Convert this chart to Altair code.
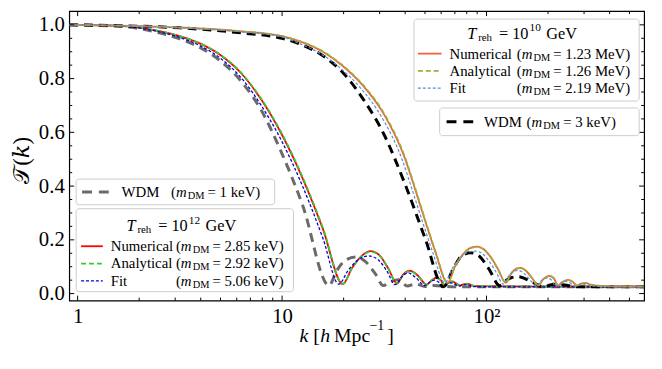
import altair as alt
import pandas as pd

FONT = "Liberation Serif"

# ---------------- data ----------------
# T_reh = 1e12 GeV
k12 = [0.91, 1.58, 2.0, 2.51, 3.16, 3.98, 5.01, 6.31, 7.94, 10.0, 12.59, 15.85, 19.8, 22.0, 24.5, 27.1,
       30.0, 33.0, 36.5, 39.0, 42.2, 46.0, 51.0, 54.0, 57.0, 60.0, 62.3, 65.0, 68.0, 71.0, 74.0, 77.0,
       80.0, 84.0, 88.0, 120.0, 250.0, 590.0]
T12_num = [1.0, 0.997, 0.990, 0.977, 0.958, 0.930, 0.887, 0.820, 0.720, 0.590, 0.430, 0.240, 0.035, 0.095,
           0.140, 0.158, 0.142, 0.095, 0.037, 0.070, 0.085, 0.068, 0.033, 0.050, 0.059, 0.048, 0.032, 0.040,
           0.045, 0.038, 0.030, 0.034, 0.037, 0.032, 0.028, 0.027, 0.026, 0.026]
T12_ana = [1.0, 0.997, 0.990, 0.977, 0.958, 0.931, 0.888, 0.822, 0.723, 0.594, 0.434, 0.244, 0.036, 0.094,
           0.139, 0.156, 0.141, 0.094, 0.037, 0.069, 0.084, 0.067, 0.033, 0.049, 0.058, 0.047, 0.032, 0.039,
           0.044, 0.037, 0.030, 0.033, 0.036, 0.031, 0.028, 0.027, 0.026, 0.026]
k12_fit = [0.91, 1.58, 2.0, 2.51, 3.16, 3.98, 5.01, 6.31, 7.94, 10.0, 12.59, 15.85, 18.96, 21.0, 23.5, 26.5,
           29.5, 32.5, 35.7, 38.5, 41.3, 45.0, 50.0, 53.0, 55.5, 58.5, 61.0, 64.0, 67.0, 70.0, 73.0, 76.0,
           79.0, 83.0, 87.0, 120.0, 250.0, 590.0]
T12_fit = [1.0, 0.996, 0.988, 0.974, 0.953, 0.922, 0.875, 0.803, 0.698, 0.565, 0.400, 0.205, 0.035, 0.085,
           0.125, 0.140, 0.126, 0.085, 0.033, 0.062, 0.077, 0.060, 0.030, 0.044, 0.050, 0.042, 0.030, 0.036,
           0.040, 0.034, 0.028, 0.031, 0.033, 0.029, 0.026, 0.025, 0.025, 0.025]
# WDM 1 keV
k_w1 = [0.91, 1.58, 2.0, 2.51, 3.16, 3.98, 5.01, 6.31, 7.94, 10.0, 12.59, 16.97, 18.5, 20.5, 22.9, 25.5,
        28.5, 31.3, 34.0, 37.0, 41.0, 45.0, 50.0, 55.0, 70.0, 590.0]
T_w1 = [1.0, 0.995, 0.986, 0.970, 0.948, 0.915, 0.865, 0.790, 0.680, 0.520, 0.330, 0.030, 0.085, 0.125,
        0.136, 0.120, 0.075, 0.030, 0.045, 0.052, 0.028, 0.036, 0.026, 0.030, 0.025, 0.025]
# T_reh = 1e10 GeV
k10 = [0.91, 1.59, 3.16, 6.31, 10.0, 12.59, 15.85, 19.95, 25.12, 31.62, 39.81, 44.67, 50.12, 56.23, 64.5,
       70.5, 77.5, 83.5, 90.0, 97.0, 105.0, 114.0, 124.2, 132.0, 139.0, 146.8, 156.0, 167.0, 179.3, 190.0,
       202.7, 213.0, 224.0, 237.0, 250.4, 263.0, 276.7, 291.0, 305.9, 322.0, 345.0, 400.0, 590.0]
T10_num = [1.0, 0.997, 0.990, 0.976, 0.958, 0.935, 0.900, 0.845, 0.770, 0.665, 0.505, 0.390, 0.270, 0.155,
           0.040, 0.105, 0.150, 0.170, 0.175, 0.165, 0.135, 0.090, 0.040, 0.075, 0.092, 0.096, 0.085, 0.058,
           0.030, 0.055, 0.066, 0.058, 0.030, 0.045, 0.051, 0.045, 0.030, 0.037, 0.040, 0.033, 0.030, 0.027,
           0.026]
T10_ana = [1.0, 0.997, 0.990, 0.976, 0.958, 0.936, 0.901, 0.847, 0.773, 0.669, 0.510, 0.395, 0.274, 0.158,
           0.041, 0.104, 0.149, 0.169, 0.174, 0.164, 0.134, 0.089, 0.040, 0.074, 0.091, 0.095, 0.084, 0.057,
           0.030, 0.054, 0.065, 0.057, 0.030, 0.044, 0.050, 0.044, 0.030, 0.036, 0.039, 0.032, 0.030, 0.027,
           0.026]
k10_fit = [0.91, 1.59, 3.16, 6.31, 10.0, 12.2, 15.4, 19.35, 24.4, 30.7, 38.6, 43.3, 48.6, 54.5, 62.6, 68.5,
           75.5, 81.5, 88.0, 95.0, 102.5, 111.0, 121.0, 128.5, 135.5, 143.0, 152.0, 163.0, 175.0, 185.0,
           197.5, 207.5, 218.0, 231.0, 244.0, 256.0, 269.0, 283.0, 298.0, 314.0, 340.0, 400.0, 590.0]
T10_fit = [1.0, 0.997, 0.989, 0.974, 0.955, 0.930, 0.893, 0.838, 0.762, 0.657, 0.500, 0.386, 0.268, 0.155,
           0.040, 0.098, 0.138, 0.155, 0.158, 0.150, 0.122, 0.082, 0.035, 0.066, 0.082, 0.086, 0.076, 0.052,
           0.028, 0.048, 0.058, 0.051, 0.028, 0.040, 0.045, 0.040, 0.028, 0.033, 0.036, 0.030, 0.028, 0.026,
           0.025]
# WDM 3 keV
k_w3 = [0.91, 1.59, 3.16, 6.31, 10.0, 12.59, 15.85, 19.95, 25.12, 31.62, 39.81, 50.12, 61.6, 68.5, 75.5,
        83.7, 92.0, 103.0, 116.0, 124.0, 133.0, 143.5, 155.0, 170.0, 189.6, 205.0, 225.0, 250.0, 280.0, 590.0]
T_w3 = [1.0, 0.997, 0.989, 0.970, 0.950, 0.925, 0.885, 0.820, 0.720, 0.590, 0.410, 0.205, 0.025, 0.090,
        0.140, 0.152, 0.140, 0.090, 0.030, 0.048, 0.060, 0.063, 0.055, 0.040, 0.025, 0.032, 0.035, 0.030,
        0.025, 0.025]

x_major = [1, 10, 100]
x_minor = [2, 3, 4, 5, 6, 7, 8, 9, 20, 30, 40, 50, 60, 70, 80, 90, 200, 300, 400, 500]
y_major = [0.0, 0.2, 0.4, 0.6, 0.8, 1.0]
y_minor = [0.05, 0.1, 0.15, 0.25, 0.3, 0.35, 0.45, 0.5, 0.55, 0.65, 0.7, 0.75, 0.85, 0.9, 0.95]

# ---------------- layout ----------------
W, H = 582, 293
xs = alt.Scale(type="log", domain=[0.91, 590], nice=False)
ys = alt.Scale(domain=[-0.026, 1.051], nice=False, zero=False)
xaxis = alt.Axis(values=x_major, labelExpr="datum.value == 100 ? '10²' : format(datum.value, 'd')",
                 ticks=False, tickSize=0, domain=False, grid=False, title=None, labelFont=FONT,
                 labelFontSize=21, labelColor="black", labelPadding=5, labelFlush=False)
yaxis = alt.Axis(values=y_major, format=".1f", ticks=False, tickSize=0, domain=False, grid=False,
                 title=None, labelFont=FONT, labelFontSize=21, labelColor="black", labelPadding=5)
X = alt.X("k:Q", scale=xs, axis=xaxis)
Y = alt.Y("T:Q", scale=ys, axis=yaxis)


def line(kk, tt, color, width, dash=None):
    df = pd.DataFrame({"k": kk, "T": tt})
    kw = dict(color=color, strokeWidth=width, interpolate="monotone", clip=True)
    if dash:
        kw["strokeDash"] = dash
    return alt.Chart(df).mark_line(**kw).encode(x=X, y=Y)


lines = [
    line(k_w1, T_w1, "#6a6a6a", 3.0, [9, 6]),
    line(k12, T12_num, "#ff0000", 1.8),
    line(k12, T12_ana, "#33cc33", 1.8, [5, 3]),
    line(k12_fit, T12_fit, "#0000dd", 1.3, [3, 2]),
    line(k_w3, T_w3, "#000000", 3.0, [9, 6]),
    line(k10, T10_num, "#f4623a", 1.8),
    line(k10, T10_ana, "#94b43a", 1.8, [5, 3]),
    line(k10_fit, T10_fit, "#5b8fd6", 1.2, [3, 2]),
]


def xticks(vals, ln):
    d = pd.DataFrame({"k": vals})
    b = alt.Chart(d).mark_rule(color="black", strokeWidth=1).encode(x=X, y=alt.value(H), y2=alt.value(H - ln))
    t = alt.Chart(d).mark_rule(color="black", strokeWidth=1).encode(x=X, y=alt.value(0), y2=alt.value(ln))
    return [b, t]


def yticks(vals, ln):
    d = pd.DataFrame({"T": vals})
    l = alt.Chart(d).mark_rule(color="black", strokeWidth=1).encode(y=Y, x=alt.value(0), x2=alt.value(ln))
    r = alt.Chart(d).mark_rule(color="black", strokeWidth=1).encode(y=Y, x=alt.value(W), x2=alt.value(W - ln))
    return [l, r]


ticks = xticks(x_major, 5) + xticks(x_minor, 3) + yticks(y_major, 5) + yticks(y_minor, 3)

one = pd.DataFrame({"a": [0]})


def txt(s, x, y, size=15, style="normal", align="left", angle=0, font=FONT):
    kw = dict(text=s, font=font, fontSize=size, fontStyle=style, align=align, baseline="middle", color="black")
    if angle:
        kw["angle"] = angle
    return alt.Chart(one).mark_text(**kw).encode(x=alt.value(x), y=alt.value(y))


def box(x1, y1, x2, y2):
    return alt.Chart(one).mark_rect(fill="white", fillOpacity=0.8, stroke="#cccccc", strokeWidth=1,
                                    cornerRadius=3).encode(x=alt.value(x1), x2=alt.value(x2),
                                                           y=alt.value(y1), y2=alt.value(y2))


def sym(x1, x2, y, color, width, dash=None):
    kw = dict(color=color, strokeWidth=width)
    if dash:
        kw["strokeDash"] = dash
    return alt.Chart(one).mark_rule(**kw).encode(x=alt.value(x1), x2=alt.value(x2), y=alt.value(y))


def mlabel(x_m, y, value):
    # "(m_DM = value)"
    return [txt("(", x_m, y), txt("m", x_m + 5, y, style="italic"), txt("DM", x_m + 17, y + 4, size=10.5),
            txt("= " + value + ")", x_m + 37, y)]


def treh(x, y, exp):
    return [txt("T", x, y, size=16.5, style="italic"), txt("reh", x + 11, y + 4, size=11),
            txt("= 10", x + 32, y, size=16.5), txt(exp, x + 63, y - 6, size=11.5), txt("GeV", x + 80, y, size=16.5)]


leg = []
# --- T_reh = 1e10 box ---
leg.append(box(349, 8, 577, 91))
leg += treh(403, 23, "10")
rows10 = [("Numerical", "1.23 MeV", "#f4623a", 1.8, None),
          ("Analytical", "1.26 MeV", "#94b43a", 1.8, [5, 3]),
          ("Fit", "2.19 MeV", "#5b8fd6", 1.2, [3, 2])]
for i, (name, val, c, w, d) in enumerate(rows10):
    yy = 43 + i * 17.5
    leg.append(sym(353, 377, yy, c, w, d))
    leg.append(txt(name, 385, yy))
    leg += mlabel(453, yy, val)
# --- WDM 3 keV box ---
leg.append(box(375, 98, 577, 126))
leg.append(sym(382, 411, 112, "black", 3.0, [10, 7]))
leg.append(txt("WDM", 420, 112))
leg += mlabel(463, 112, "3 keV")
# --- WDM 1 keV box ---
leg.append(box(7, 170, 208, 196))
leg.append(sym(13, 43, 183, "#6a6a6a", 3.0, [10, 7]))
leg.append(txt("WDM", 53, 183))
leg += mlabel(103, 183, "1 keV")
# --- T_reh = 1e12 box ---
leg.append(box(7, 200, 227, 284))
leg += treh(58, 218, "12")
rows12 = [("Numerical", "2.85 keV", "#ff0000", 1.8, None),
          ("Analytical", "2.92 keV", "#33cc33", 1.8, [5, 3]),
          ("Fit", "5.06 keV", "#0000dd", 1.3, [3, 2])]
for i, (name, val, c, w, d) in enumerate(rows12):
    yy = 238 + i * 17.5
    leg.append(sym(12, 34, yy, c, w, d))
    leg.append(txt(name, 42, yy))
    leg += mlabel(108, yy, val)

# axis titles
titles = [
    txt("𝒯(𝑘)", -48, 151, size=23, angle=270, align="center", font="Liberation Serif, DejaVu Serif, DejaVu Sans"),
    txt("k", 233, 329, size=20, style="italic"),
    txt("[", 247, 329, size=20),
    txt("h", 254, 329, size=20, style="italic"),
    txt("Mpc", 268, 329, size=20),
    txt("−1", 304, 319, size=14),
    txt("]", 322, 329, size=20),
]

chart = alt.layer(*lines, *ticks, *leg, *titles).properties(
    width=W, height=H,
    autosize=alt.AutoSizeParams(type="none"),
    padding={"left": 62, "top": 1, "right": 10, "bottom": 60},
).configure_view(stroke="black", strokeWidth=1.2)

chart.save("out.html", embed_options={"renderer": "svg", "actions": False})
